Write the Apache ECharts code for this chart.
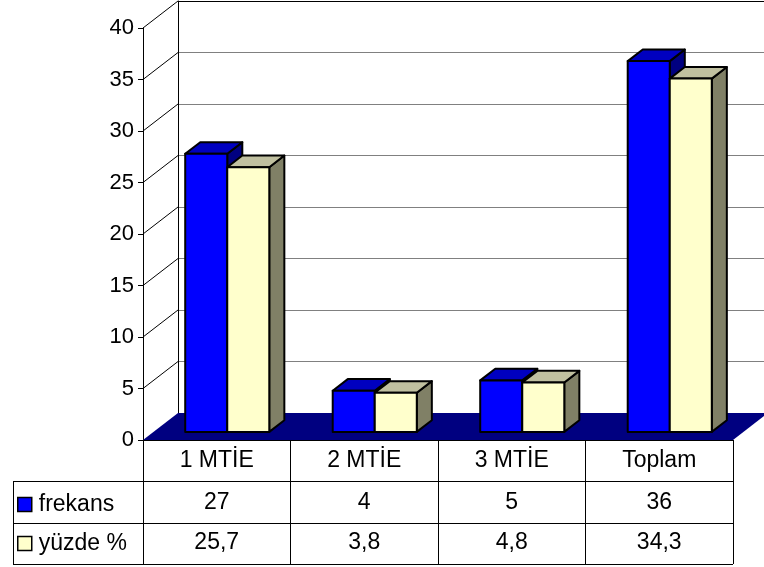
<!DOCTYPE html>
<html>
<head>
<meta charset="utf-8">
<script src="https://cdn.jsdelivr.net/npm/echarts@6/dist/echarts.min.js"></script>
<style>html,body{margin:0;padding:0;background:#fff}#c{width:764px;height:567px}</style>
</head>
<body>
<div id="c"></div>
<script>
// ---- data ----
const categories = ['1 MTİE', '2 MTİE', '3 MTİE', 'Toplam'];
const frekans = [27, 4, 5, 36];
const yuzde = [25.7, 3.8, 4.8, 34.3];
const yTicks = [0, 5, 10, 15, 20, 25, 30, 35, 40];
const seriesNames = ['frekans', 'yüzde %'];

// ---- layout ----
const FONT = '"Liberation Sans", Arial, sans-serif';
const TABLE_FS = 23;
const FRONT = { left: 143, top: 28, width: 590, height: 412 };
const DEPTH = [35, -27];
const BACK = { left: FRONT.left + DEPTH[0], top: FRONT.top + DEPTH[1], width: 590, height: 412 };
const ROW_H = 41.3;
const TABLE_LEFT = 13;
const baseY = FRONT.top + FRONT.height;

const palettes = [
  { front: '#0000FF', top: '#0000C0', side: '#000080' },
  { front: '#FFFFCC', top: '#C0C0A0', side: '#808066' }
];

function barRenderer(k) {
  const c = palettes[k];
  return function (params, api) {
    const cat = api.value(0), val = api.value(1);
    const p0 = api.coord([cat, 0]);
    const p1 = api.coord([cat, val]);
    const band = api.size([1, 0])[0];
    const w = band * 0.285;
    const fx = DEPTH[0] * 0.3, fy = DEPTH[1] * 0.3;
    const bx = DEPTH[0] * 0.43, by = DEPTH[1] * 0.43;
    const L = p0[0] - w + k * w + fx;
    const yt = p1[1] + fy, yb = p0[1] + fy;
    const st = (fill) => ({ fill: fill, stroke: '#000', lineWidth: 2, lineJoin: 'round' });
    return {
      type: 'group',
      children: [
        { type: 'polygon', shape: { points: [[L + w, yt], [L + w + bx, yt + by], [L + w + bx, yb + by], [L + w, yb]] }, style: st(c.side) },
        { type: 'polygon', shape: { points: [[L, yt], [L + bx, yt + by], [L + w + bx, yt + by], [L + w, yt]] }, style: st(c.top) },
        { type: 'rect', shape: { x: L, y: yt, width: w, height: yb - yt }, style: st(c.front) }
      ]
    };
  };
}

function wallRenderer(params, api) {
  const cs = params.coordSys;
  const t = api.value(1);
  const yy = api.coord([0, t])[1];
  const children = [];
  if (t === 0) {
    children.push({
      type: 'polygon',
      shape: { points: [[cs.x, cs.y + cs.height], [cs.x + DEPTH[0], cs.y + cs.height + DEPTH[1]],
        [cs.x + cs.width + DEPTH[0], cs.y + cs.height + DEPTH[1]], [cs.x + cs.width, cs.y + cs.height]] },
      style: { fill: '#000080' }
    });
  } else {
    children.push({
      type: 'line',
      shape: { x1: cs.x, y1: yy, x2: cs.x + DEPTH[0], y2: yy + DEPTH[1] },
      style: { stroke: '#000', lineWidth: 1 }
    });
  }
  return { type: 'group', children: children };
}

const fmtPct = v => v.toFixed(1).replace('.', ',');
const tableLines = [];
for (let i = 1; i <= 3; i++) {
  const y = Math.round(baseY + ROW_H * i) + 0.5;
  tableLines.push({ type: 'line', shape: { x1: TABLE_LEFT, y1: y, x2: FRONT.left + FRONT.width, y2: y }, style: { stroke: '#000', lineWidth: 1 } });
}
tableLines.push({ type: 'line', shape: { x1: TABLE_LEFT + 0.5, y1: Math.round(baseY + ROW_H) + 0.5, x2: TABLE_LEFT + 0.5, y2: Math.round(baseY + ROW_H * 3) + 0.5 }, style: { stroke: '#000', lineWidth: 1 } });

const gridLineColors = yTicks.map((t, i) => i === yTicks.length - 1 ? '#000' : '#808080');

const option = {
  animation: false,
  backgroundColor: '#fff',
  textStyle: { fontFamily: FONT },
  grid: [
    { left: FRONT.left, top: FRONT.top, width: FRONT.width, height: FRONT.height },
    { left: BACK.left, top: BACK.top, width: BACK.width, height: BACK.height }
  ],
  xAxis: [
    {
      type: 'category', gridIndex: 0, data: categories, boundaryGap: true, z: 10,
      axisLine: { show: true, lineStyle: { color: '#000', width: 1 } },
      axisTick: { show: true, length: Math.round(ROW_H * 3), interval: 0, lineStyle: { color: '#000' } },
      axisLabel: { show: true, interval: 0, margin: 21, verticalAlign: 'middle', fontSize: TABLE_FS, color: '#000', fontFamily: FONT },
      splitLine: { show: false }
    },
    {
      type: 'category', gridIndex: 0, data: frekans.map(v => String(v)), position: 'bottom', offset: ROW_H,
      axisLine: { show: false }, axisTick: { show: false },
      axisLabel: { interval: 0, margin: 21, verticalAlign: 'middle', fontSize: TABLE_FS, color: '#000', fontFamily: FONT }
    },
    {
      type: 'category', gridIndex: 0, data: yuzde.map(fmtPct), position: 'bottom', offset: ROW_H * 2,
      axisLine: { show: false }, axisTick: { show: false },
      axisLabel: { interval: 0, margin: 20, verticalAlign: 'middle', fontSize: TABLE_FS, color: '#000', fontFamily: FONT }
    },
    { type: 'value', gridIndex: 1, min: 0, max: 1, show: false }
  ],
  yAxis: [
    {
      type: 'value', gridIndex: 0, min: yTicks[0], max: yTicks[yTicks.length - 1], interval: yTicks[1] - yTicks[0],
      axisLine: { show: true, onZero: false, lineStyle: { color: '#000' } },
      axisTick: { show: true, length: 5, lineStyle: { color: '#000' } },
      axisLabel: { margin: 9, fontSize: 22, color: '#000', fontFamily: FONT },
      splitLine: { show: false }
    },
    {
      type: 'value', gridIndex: 1, min: yTicks[0], max: yTicks[yTicks.length - 1], interval: yTicks[1] - yTicks[0],
      axisLine: { show: true, onZero: false, lineStyle: { color: '#000' } },
      axisTick: { show: false }, axisLabel: { show: false },
      splitLine: { show: true, lineStyle: { color: gridLineColors, width: 1 } }
    }
  ],
  legend: {
    data: seriesNames,
    orient: 'vertical', left: 17, top: 493, padding: 0,
    itemWidth: 14, itemHeight: 14, itemGap: 16,
    icon: 'rect',
    itemStyle: { borderColor: '#000', borderWidth: 1.5 },
    textStyle: { fontSize: TABLE_FS, color: '#000', fontFamily: FONT, lineHeight: 22, padding: [0, 0, 0, 2] },
    selectedMode: false
  },
  graphic: tableLines,
  series: [
    {
      name: 'walls', type: 'custom', xAxisIndex: 0, yAxisIndex: 0, z: 1, silent: true,
      data: yTicks.map(t => [0, t]), renderItem: wallRenderer
    },
    {
      name: seriesNames[0], type: 'custom', xAxisIndex: 0, yAxisIndex: 0, z: 2,
      itemStyle: { color: palettes[0].front },
      data: frekans.map((v, i) => [i, v]), renderItem: barRenderer(0)
    },
    {
      name: seriesNames[1], type: 'custom', xAxisIndex: 0, yAxisIndex: 0, z: 3,
      itemStyle: { color: palettes[1].front },
      data: yuzde.map((v, i) => [i, v]), renderItem: barRenderer(1)
    }
  ]
};

const chart = echarts.init(document.getElementById('c'), null, { renderer: 'canvas' });
chart.setOption(option);
</script>
</body>
</html>
